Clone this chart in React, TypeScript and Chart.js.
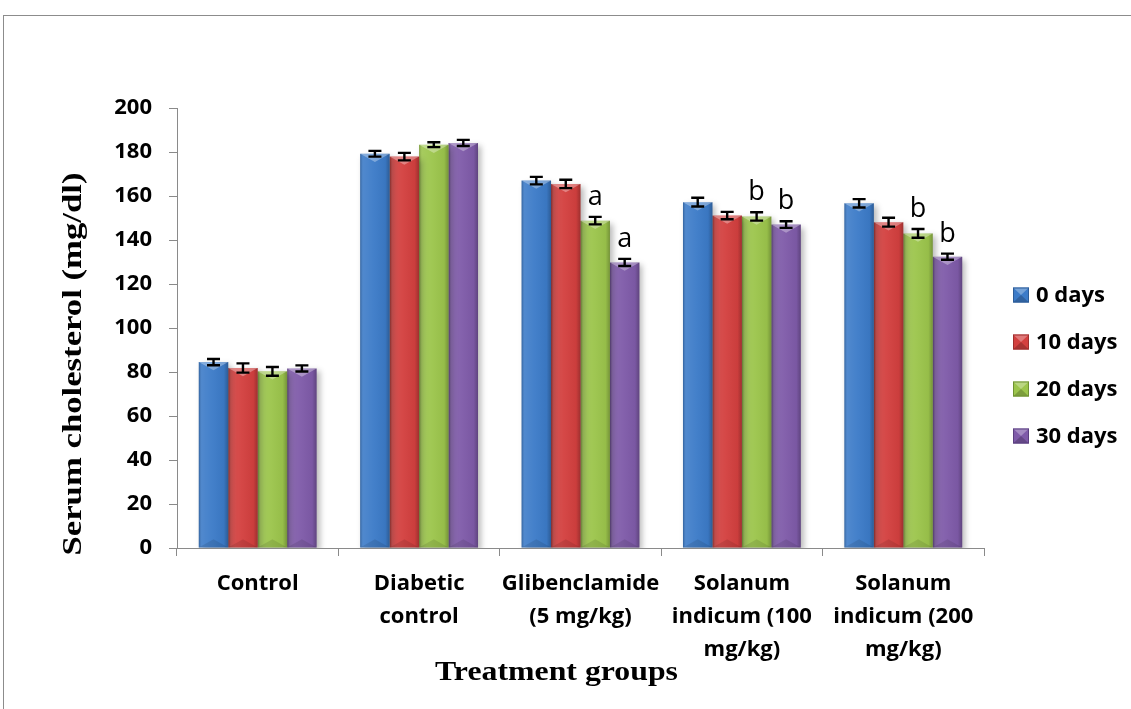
import React, { useEffect, useRef } from 'react';
import { Chart, registerables } from 'chart.js';

Chart.register(...registerables);

// ---- data ----
const categories: string[][] = [
  ['Control'],
  ['Diabetic', 'control'],
  ['Glibenclamide', '(5 mg/kg)'],
  ['Solanum', 'indicum (100', 'mg/kg)'],
  ['Solanum', 'indicum (200', 'mg/kg)'],
];
const seriesLabels = ['0 days', '10 days', '20 days', '30 days'];
const days0 = [84.5, 179.2, 167.0, 157.2, 156.7];
const days10 = [81.8, 177.9, 165.5, 151.1, 148.1];
const days20 = [80.3, 183.3, 148.8, 150.7, 143.0];
const days30 = [81.6, 184.1, 129.8, 147.0, 132.4];
const err0 = [1.4, 1.3, 1.7, 2.0, 1.9];
const err10 = [2.1, 1.7, 1.9, 1.7, 2.0];
const err20 = [2.0, 1.1, 1.7, 1.9, 2.0];
const err30 = [1.4, 1.4, 1.6, 1.5, 1.4];
const sig0 = ['', '', '', '', ''];
const sig10 = ['', '', '', '', ''];
const sig20 = ['', '', 'a', 'b', 'b'];
const sig30 = ['', '', 'a', 'b', 'b'];
const yMin = 0;
const yMax = 200;
const yStep = 20;
const xTitle = 'Treatment groups';
const yTitle = 'Serum cholesterol (mg/dl)';

const seriesValues = [days0, days10, days20, days30];
const seriesErrors = [err0, err10, err20, err30];
const seriesSig = [sig0, sig10, sig20, sig30];
const seriesColors = ['#3c7bc8', '#d3403f', '#9cc54c', '#7f5ba9'];
const seriesDark = ['#2c5c98', '#9e2f2e', '#6f9232', '#5b3f80'];

const tickFont = { family: '"Open Sans", sans-serif', size: 22, weight: 'bold' as const, lineHeight: 1.5 };

const decorPlugin = {
  id: 'decor',
  beforeDatasetsDraw(chart: any) {
    const ctx = chart.ctx;
    ctx.save();
    ctx.shadowColor = 'rgba(0,0,0,0.28)';
    ctx.shadowBlur = 6;
    ctx.shadowOffsetX = 3;
    ctx.shadowOffsetY = 3;
  },
  afterDatasetsDraw(chart: any) {
    const ctx = chart.ctx;
    ctx.restore();
    const yScale = chart.scales.y;
    chart.data.datasets.forEach((ds: any, di: number) => {
      const meta = chart.getDatasetMeta(di);
      meta.data.forEach((el: any, i: number) => {
        const { x, y, base, width } = el.getProps(['x', 'y', 'base', 'width'], true);
        const left = x - width / 2;
        const right = x + width / 2;
        const g = ctx.createLinearGradient(left, 0, right, 0);
        g.addColorStop(0, 'rgba(0,0,0,0.22)');
        g.addColorStop(0.1, 'rgba(255,255,255,0.10)');
        g.addColorStop(0.45, 'rgba(255,255,255,0.04)');
        g.addColorStop(0.85, 'rgba(0,0,0,0.04)');
        g.addColorStop(1, 'rgba(0,0,0,0.25)');
        ctx.save();
        ctx.fillStyle = g;
        ctx.fillRect(left, y, width, base - y);
        ctx.beginPath();
        ctx.moveTo(left, y);
        ctx.lineTo(right, y);
        ctx.lineTo(x, y + width * 0.28);
        ctx.closePath();
        ctx.fillStyle = 'rgba(255,255,255,0.32)';
        ctx.fill();
        ctx.beginPath();
        ctx.moveTo(left, base);
        ctx.lineTo(right, base);
        ctx.lineTo(x, base - width * 0.28);
        ctx.closePath();
        ctx.fillStyle = 'rgba(0,0,0,0.10)';
        ctx.fill();
        ctx.restore();

        const v = ds.data[i];
        const e = seriesErrors[di][i];
        const yTop = yScale.getPixelForValue(v + e);
        const yBot = yScale.getPixelForValue(v - e);
        const cap = 6.5;
        ctx.save();
        ctx.strokeStyle = '#000';
        ctx.lineWidth = 2.4;
        ctx.beginPath();
        ctx.moveTo(x, yTop);
        ctx.lineTo(x, yBot);
        ctx.moveTo(x - cap, yTop);
        ctx.lineTo(x + cap, yTop);
        ctx.moveTo(x - cap, yBot);
        ctx.lineTo(x + cap, yBot);
        ctx.stroke();
        ctx.restore();

        const s = seriesSig[di][i];
        if (s) {
          ctx.save();
          ctx.fillStyle = '#000';
          ctx.font = '27px "Open Sans", sans-serif';
          ctx.textAlign = 'center';
          ctx.textBaseline = 'alphabetic';
          ctx.fillText(s, x, yTop - 12);
          ctx.restore();
        }
      });
    });
  },
  afterDraw(chart: any) {
    const ctx = chart.ctx;
    ctx.save();
    ctx.fillStyle = '#000';
    ctx.font = 'bold 28px "Liberation Serif", "Times New Roman", serif';
    ctx.translate(81, 364);
    ctx.rotate(-Math.PI / 2);
    const wy = ctx.measureText(yTitle).width;
    ctx.scale(383 / wy, 1);
    ctx.textAlign = 'center';
    ctx.textBaseline = 'alphabetic';
    ctx.fillText(yTitle, 0, 0);
    ctx.restore();

    ctx.save();
    ctx.fillStyle = '#000';
    ctx.font = 'bold 27px "Liberation Serif", "Times New Roman", serif';
    ctx.translate(556.5, 680);
    const wx = ctx.measureText(xTitle).width;
    ctx.scale(243 / wx, 1);
    ctx.textAlign = 'center';
    ctx.textBaseline = 'alphabetic';
    ctx.fillText(xTitle, 0, 0);
    ctx.restore();

    chart.data.datasets.forEach((ds: any, di: number) => {
      const cy = 295 + di * 47;
      const bx = 1013;
      const bw = 16;
      const bh = 15;
      ctx.save();
      ctx.fillStyle = seriesColors[di];
      ctx.fillRect(bx, cy - bh / 2, bw, bh);
      ctx.beginPath();
      ctx.moveTo(bx, cy - bh / 2);
      ctx.lineTo(bx + bw, cy - bh / 2);
      ctx.lineTo(bx + bw / 2, cy);
      ctx.closePath();
      ctx.fillStyle = 'rgba(255,255,255,0.3)';
      ctx.fill();
      ctx.beginPath();
      ctx.moveTo(bx, cy + bh / 2);
      ctx.lineTo(bx + bw, cy + bh / 2);
      ctx.lineTo(bx + bw / 2, cy);
      ctx.closePath();
      ctx.fillStyle = 'rgba(0,0,0,0.2)';
      ctx.fill();
      ctx.strokeStyle = seriesDark[di];
      ctx.lineWidth = 1;
      ctx.strokeRect(bx + 0.5, cy - bh / 2 + 0.5, bw - 1, bh - 1);
      ctx.fillStyle = '#000';
      ctx.font = 'bold 22px "Open Sans", sans-serif';
      ctx.textAlign = 'left';
      ctx.textBaseline = 'middle';
      ctx.fillText(ds.label, 1036, cy + 1);
      ctx.restore();
    });
  },
};

export default function App() {
  const canvasRef = useRef<HTMLCanvasElement | null>(null);

  useEffect(() => {
    if (!canvasRef.current) return;
    const chart = new Chart(canvasRef.current, {
      type: 'bar',
      data: {
        labels: categories,
        datasets: seriesLabels.map((label, i) => ({
          label,
          data: seriesValues[i],
          backgroundColor: seriesColors[i],
          borderWidth: 0,
          categoryPercentage: 0.73,
          barPercentage: 1.0,
        })),
      },
      options: {
        animation: false,
        responsive: false,
        maintainAspectRatio: false,
        devicePixelRatio: 1,
        layout: { padding: { left: 0, top: 108, right: 147, bottom: 0 } },
        plugins: {
          legend: { display: false },
          tooltip: { enabled: false },
          title: { display: false },
        },
        scales: {
          x: {
            grid: {
              display: true,
              drawOnChartArea: false,
              drawTicks: true,
              tickLength: 8,
              color: '#8a8a8a',
              offset: true,
            },
            border: { display: true, color: '#8a8a8a', width: 1 },
            ticks: {
              font: tickFont,
              color: '#000',
              padding: 11,
              maxRotation: 0,
              minRotation: 0,
              autoSkip: false,
            },
            afterFit: (s: any) => {
              s.height = 161;
            },
          },
          y: {
            min: yMin,
            max: yMax,
            ticks: {
              stepSize: yStep,
              font: { ...tickFont, lineHeight: 1.2 },
              color: '#000',
              padding: 17,
            },
            grid: {
              display: true,
              drawOnChartArea: false,
              drawTicks: true,
              tickLength: 8,
              color: '#8a8a8a',
            },
            border: { display: true, color: '#8a8a8a', width: 1 },
            afterFit: (s: any) => {
              s.width = 177;
            },
          },
        },
      },
      plugins: [decorPlugin],
    });
    return () => chart.destroy();
  }, []);

  return (
    <div style={{ position: 'absolute', left: 0, top: 0, width: 1131, height: 709, background: '#fff' }}>
      <div
        style={{
          position: 'absolute',
          left: 3,
          top: 15,
          right: 0,
          bottom: 0,
          borderTop: '1px solid #8c8c8c',
          borderLeft: '1px solid #8c8c8c',
        }}
      />
      <canvas
        ref={canvasRef}
        width={1131}
        height={709}
        style={{ position: 'absolute', left: 0, top: 0, width: 1131, height: 709 }}
      />
    </div>
  );
}
